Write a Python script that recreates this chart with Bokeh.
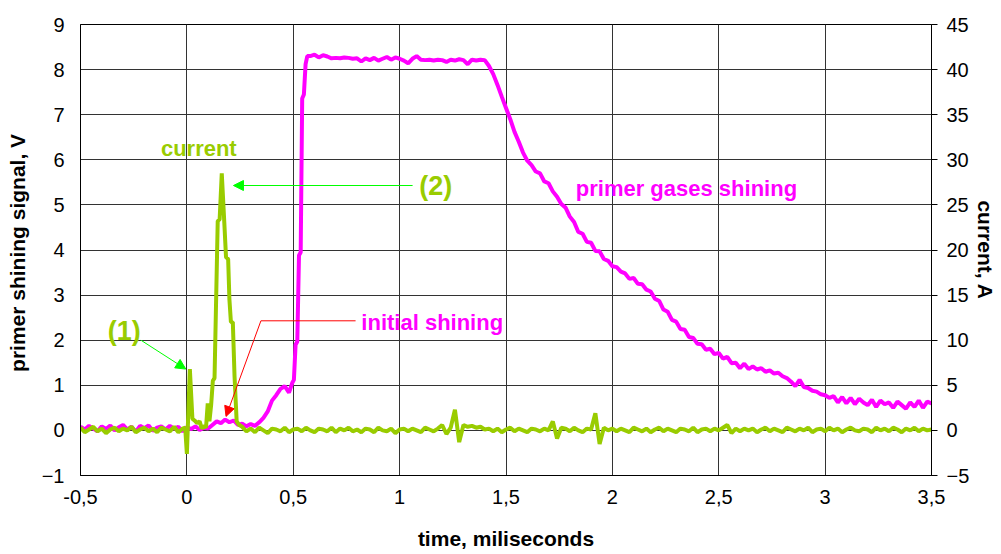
from bokeh.plotting import figure
from bokeh.models import (Range1d, LinearAxis, SingleIntervalTicker, CustomJSTickFormatter,
                          Label, Arrow, NormalHead)
from bokeh.embed import file_html
from bokeh.resources import INLINE

# ---------------- data ----------------
# primer shining signal (V), sampled every 0.02 ms from -0.50 to 0.48 ms
sig_pre = [0.08, 0.02, 0.10, 0.04, -0.02, 0.09, 0.03, 0.11, 0.00, 0.07,
           0.12, 0.02, 0.08, -0.03, 0.10, 0.05, 0.11, -0.01, 0.06, 0.09,
           0.02, 0.10, 0.04, 0.08, -0.02, 0.07, 0.03, 0.09, 0.01, 0.06,
           0.04, 0.12, 0.20, 0.16, 0.24, 0.18, 0.22, 0.12, 0.15, 0.09,
           0.14, 0.10, 0.18, 0.28, 0.42, 0.66, 0.78, 0.92, 0.98, 0.84]
# steep rise (irregular sample times)
sig_rise_t = [0.495, 0.503, 0.511, 0.519, 0.527, 0.535, 0.542, 0.550, 0.558, 0.566]
sig_rise_v = [1.05, 1.12, 1.90, 1.97, 3.88, 3.95, 7.36, 7.45, 8.12, 8.30]
# plateau and decay, every 0.02 ms from 0.58 to 3.50 ms
sig_post = [8.30, 8.33, 8.27, 8.32, 8.29, 8.25, 8.26, 8.25, 8.27, 8.26,
            8.24, 8.25, 8.18, 8.25, 8.21, 8.26, 8.20, 8.24, 8.28, 8.22,
            8.27, 8.24, 8.20, 8.14, 8.24, 8.30, 8.22, 8.21, 8.22, 8.20,
            8.22, 8.21, 8.17, 8.22, 8.20, 8.23, 8.21, 8.12, 8.22, 8.20,
            8.22, 8.21, 8.08, 7.90, 7.66, 7.40, 7.15, 6.90, 6.62, 6.40,
            6.16, 5.98, 5.88, 5.74, 5.70, 5.52, 5.48, 5.30, 5.18, 5.02,
            4.94, 4.74, 4.62, 4.40, 4.36, 4.18, 4.16, 3.98, 3.97, 3.80,
            3.76, 3.64, 3.62, 3.52, 3.48, 3.36, 3.38, 3.25, 3.24, 3.12,
            3.08, 2.92, 2.87, 2.68, 2.63, 2.45, 2.41, 2.25, 2.23, 2.07,
            2.05, 1.92, 1.91, 1.79, 1.81, 1.69, 1.72, 1.59, 1.63, 1.49,
            1.50, 1.38, 1.48, 1.36, 1.42, 1.35, 1.38, 1.30, 1.33, 1.26,
            1.28, 1.20, 1.16, 1.08, 0.98, 1.12, 0.96, 0.94, 0.88, 0.86,
            0.80, 0.78, 0.72, 0.76, 0.62, 0.74, 0.60, 0.72, 0.58, 0.70,
            0.62, 0.56, 0.68, 0.52, 0.66, 0.58, 0.62, 0.50, 0.64, 0.56,
            0.48, 0.62, 0.52, 0.66, 0.50, 0.64, 0.60]

# current (A), every 0.02 ms from -0.50 to -0.02 ms
cur_pre = [0.3, -0.2, 0.1, 0.4, -0.1, 0.2, -0.3, 0.1, 0.3, -0.1,
           0.2, 0.0, 0.4, -0.2, 0.1, 0.3, -0.1, 0.2, -0.2, 0.3,
           0.1, -0.1, 0.4, -0.2, 0.2]
# discharge pulse (irregular sample times)
cur_pulse_t = [-0.008, 0.000, 0.014, 0.026, 0.036, 0.048, 0.060, 0.070, 0.080, 0.090,
               0.098, 0.106, 0.114, 0.122, 0.130, 0.145, 0.154, 0.164, 0.176, 0.184,
               0.194, 0.200, 0.207, 0.216, 0.224, 0.234, 0.246]
cur_pulse_a = [0.3, -2.6, 6.8, 1.3, 1.1, 0.8, 1.0, 0.2, 0.5, 0.3,
               3.0, 1.0, 2.8, 5.5, 5.8, 23.2, 23.4, 28.5, 23.0, 19.2,
               19.0, 14.5, 12.0, 12.0, 6.0, 1.0, 0.6]
# every 0.02 ms from 0.26 to 3.50 ms
cur_post = [0.4, -0.1, 0.2, -0.2, 0.3, 0.0, -0.3, 0.2, 0.1, -0.1,
            0.3, -0.2, 0.1, 0.2, -0.1, 0.3, 0.0, -0.2, 0.2, 0.1,
            -0.1, 0.3, -0.2, 0.2, 0.0, 0.3, -0.1, 0.1, -0.2, 0.2,
            0.1, -0.2, 0.3, 0.0, -0.1, 0.2, -0.3, 0.1, 0.2, -0.1,
            0.2, 0.0, -0.2, 0.3, 0.1, -0.1, 0.2, 0.6, -0.4, 0.3,
            2.3, -1.3, 0.6, 0.4, 0.5, 0.3, 0.4, 0.1, 0.2, -0.1,
            0.2, -0.2, 0.1, 0.3, -0.1, 0.2, 0.0, -0.2, 0.2, 0.1,
            -0.1, 0.2, 0.0, 1.0, -0.9, 0.3, 0.2, -0.1, 0.3, 0.0,
            -0.2, 0.2, 0.1, 1.9, -1.5, 0.3, 0.0, 0.2, -0.1, 0.2,
            0.0, -0.2, 0.3, 0.1, -0.1, 0.2, -0.2, 0.1, 0.3, -0.1,
            0.2, 0.0, -0.2, 0.2, 0.1, -0.1, 0.3, -0.2, 0.1, 0.2,
            -0.1, 0.2, 0.0, 0.3, 0.6, -0.3, 0.2, -0.1, 0.2, 0.0,
            0.2, -0.2, 0.1, 0.3, -0.1, 0.2, 0.0, -0.2, 0.3, 0.1,
            -0.1, 0.2, 0.0, 0.3, -0.2, 0.1, 0.2, -0.1, 0.3, 0.0,
            0.2, -0.2, 0.1, 0.3, 0.0, -0.1, 0.2, 0.1, -0.2, 0.3,
            0.0, 0.2, -0.1, 0.3, 0.1, -0.2, 0.2, 0.0, 0.3, -0.1,
            0.2, 0.0, 0.1]

sig_t = ([round(-0.50 + 0.02 * i, 3) for i in range(len(sig_pre))] + sig_rise_t +
         [round(0.58 + 0.02 * i, 3) for i in range(len(sig_post))])
sig_v = sig_pre + sig_rise_v + sig_post
cur_t = ([round(-0.50 + 0.02 * i, 3) for i in range(len(cur_pre))] + cur_pulse_t +
         [round(0.26 + 0.02 * i, 3) for i in range(len(cur_post))])
cur_a = cur_pre + cur_pulse_a + cur_post

MAG = "#FF00FF"
LIME = "#99CC00"
ARROW_GREEN = "#00FF00"
FONT = "Liberation Sans"

# ---------------- figure ----------------
p = figure(width=1000, height=553, x_range=Range1d(-0.5, 3.5), y_range=Range1d(-1, 9),
           output_backend="svg", toolbar_location=None,
           min_border_left=80, min_border_right=68, min_border_top=24, min_border_bottom=78)
p.extra_y_ranges = {"current": Range1d(-5, 45)}
p.background_fill_color = "white"
p.border_fill_color = "white"
p.outline_line_color = "black"
p.outline_line_width = 1

xt = SingleIntervalTicker(interval=0.5, num_minor_ticks=0)
yt = SingleIntervalTicker(interval=1, num_minor_ticks=0)
p.xaxis.ticker = xt
p.yaxis.ticker = yt
p.xgrid.ticker = xt
p.ygrid.ticker = yt
for g in (p.xgrid, p.ygrid):
    g.grid_line_color = "#333333"
    g.grid_line_width = 1
    g.grid_line_alpha = 1

comma = CustomJSTickFormatter(code="return tick.toString().replace('.', ',');")
p.xaxis.formatter = comma

def style_axis(ax, tick_out, standoff, label_standoff):
    ax.major_label_text_font = FONT
    ax.major_label_text_font_size = "20px"
    ax.major_label_text_color = "black"
    ax.axis_label_text_font = FONT
    ax.axis_label_text_font_size = "21px"
    ax.axis_label_text_font_style = "bold"
    ax.axis_label_text_color = "black"
    ax.axis_line_color = "black"
    ax.major_tick_line_color = "black"
    ax.major_tick_out = tick_out
    ax.major_tick_in = 0
    ax.minor_tick_line_color = None
    ax.major_label_standoff = standoff
    ax.axis_label_standoff = label_standoff

p.xaxis.axis_label = "time, miliseconds"
style_axis(p.xaxis[0], 0, 14, 20)
p.yaxis.axis_label = "primer shining signal,  V"
style_axis(p.yaxis[0], 0, 16, 10)

rax = LinearAxis(y_range_name="current", axis_label="current, A",
                 ticker=SingleIntervalTicker(interval=5, num_minor_ticks=0))
style_axis(rax, 6, 9, 2)
p.add_layout(rax, "right")

# ---------------- series ----------------
p.line(sig_t, sig_v, line_color=MAG, line_width=4)
p.line(cur_t, cur_a, line_color=LIME, line_width=4, y_range_name="current")

# ---------------- annotations ----------------
def lab(x, y, text, color, size, align="center"):
    p.add_layout(Label(x=x, y=y, text=text, text_color=color, text_font=FONT,
                       text_font_style="bold", text_font_size=size,
                       text_align=align, text_baseline="middle"))

lab(0.056, 6.25, "current", LIME, "22px")
lab(-0.294, 2.21, "(1)", LIME, "27px")
lab(1.17, 5.43, "(2)", LIME, "27px")
lab(0.82, 2.40, "initial shining", MAG, "22px", "left")
lab(1.828, 5.36, "primer gases shining", MAG, "22px", "left")

p.add_layout(Arrow(end=NormalHead(size=10, fill_color=ARROW_GREEN, line_color=ARROW_GREEN),
                   x_start=-0.216, y_start=2.0, x_end=-0.005, y_end=1.36,
                   line_color=ARROW_GREEN, line_width=1))
p.add_layout(Arrow(end=NormalHead(size=10, fill_color=ARROW_GREEN, line_color=ARROW_GREEN),
                   x_start=1.061, y_start=5.43, x_end=0.219, y_end=5.43,
                   line_color=ARROW_GREEN, line_width=1))
p.segment(x0=[0.793], y0=[2.43], x1=[0.348], y1=[2.43], line_color="#FF0000", line_width=1)
p.add_layout(Arrow(end=NormalHead(size=10, fill_color="#FF0000", line_color="#FF0000"),
                   x_start=0.348, y_start=2.43, x_end=0.184, y_end=0.31,
                   line_color="#FF0000", line_width=1))

open("out.html", "w").write(file_html(p, INLINE))
